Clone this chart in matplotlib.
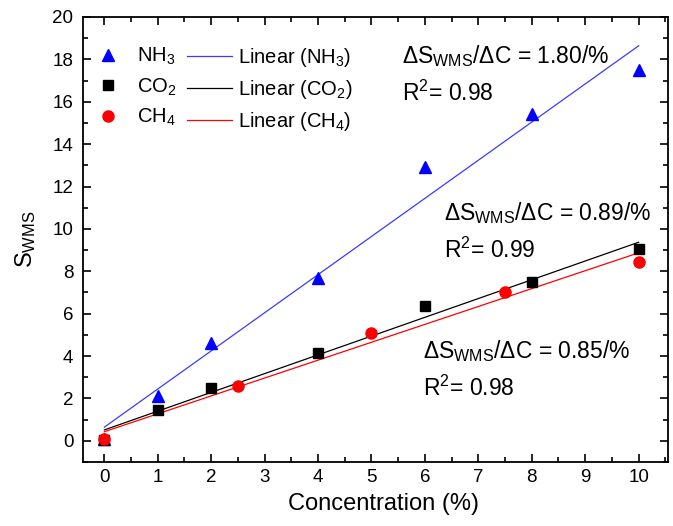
import numpy as np
import matplotlib
matplotlib.use("Agg")
import matplotlib.pyplot as plt
from matplotlib.ticker import MultipleLocator

plt.rcParams['font.family'] = ['Liberation Sans', 'DejaVu Sans']
plt.rcParams['mathtext.fontset'] = 'custom'
plt.rcParams['mathtext.rm'] = 'Liberation Sans'
plt.rcParams['mathtext.it'] = 'Liberation Sans:italic'

# data
x_nh3 = [0, 1, 2, 4, 6, 8, 10]
y_nh3 = [0.1, 2.1, 4.6, 7.7, 12.9, 15.4, 17.5]
x_co2 = [0, 1, 2, 4, 6, 8, 10]
y_co2 = [0.05, 1.45, 2.5, 4.15, 6.35, 7.5, 9.05]
x_ch4 = [0, 2.5, 5, 7.5, 10]
y_ch4 = [0.1, 2.6, 5.1, 7.0, 8.45]

# slope / R^2 notes: (first line, second line, x, baseline y of first line)
fit_text = [
    ("ΔS$_{\\mathrm{WMS}}$/ΔC = 1.80/%", "R$^2$= 0.98", 5.58, 17.83),
    ("ΔS$_{\\mathrm{WMS}}$/ΔC = 0.89/%", "R$^2$= 0.99", 6.35, 10.42),
    ("ΔS$_{\\mathrm{WMS}}$/ΔC = 0.85/%", "R$^2$= 0.98", 5.97, 3.92),
]

fig = plt.figure(figsize=(6.73, 5.26), dpi=100)
ax = fig.add_axes([0.1233, 0.1217, 0.8693, 0.846])

series = [
    ("NH$_3$", x_nh3, y_nh3, "^", 9, "#0000ff", "#3a3aff"),
    ("CO$_2$", x_co2, y_co2, "s", 7, "black", "black"),
    ("CH$_4$", x_ch4, y_ch4, "o", 8, "red", "red"),
]

pts, lines = [], []
for name, xs, ys, mk, ms, c, lc in series:
    xs = np.asarray(xs, float)
    ys = np.asarray(ys, float)
    p, = ax.plot(xs, ys, ls="none", marker=mk, ms=ms, color=c, zorder=3, label=name)
    k, b = np.polyfit(xs, ys, 1)
    xf = np.array([0, 10])
    l, = ax.plot(xf, k * xf + b, color=lc, lw=0.9, zorder=2, label="Linear (%s)" % name)
    pts.append(p)
    lines.append(l)

for t1, t2, tx, ty in fit_text:
    ax.text(tx, ty, t1, fontsize=16.5)
    ax.text(tx, ty - 1.8, t2, fontsize=16.5)

leg1 = ax.legend(pts, [h.get_label() for h in pts], frameon=False, borderpad=0,
                 borderaxespad=0, loc="upper left", bbox_to_anchor=(0.0256, 0.935),
                 fontsize=14.5, handlelength=1.0, handletextpad=0.95, labelspacing=0.45)
ax.add_artist(leg1)
ax.legend(lines, [h.get_label() for h in lines], frameon=False, borderpad=0,
          borderaxespad=0, loc="upper left", bbox_to_anchor=(0.178, 0.935),
          fontsize=14.5, handlelength=2.24, handletextpad=0.3, labelspacing=0.45)

ax.set_xlim(-0.4, 10.55)
ax.set_ylim(-1, 20)
ax.xaxis.set_major_locator(MultipleLocator(1))
ax.xaxis.set_minor_locator(MultipleLocator(0.5))
ax.yaxis.set_major_locator(MultipleLocator(2))
ax.yaxis.set_minor_locator(MultipleLocator(1))
ax.tick_params(which="both", direction="in", top=True, right=True, labelsize=13.5, width=1.2)
ax.tick_params(which="major", length=6)
ax.tick_params(which="minor", length=3.5)
ax.tick_params(axis="x", which="major", pad=5)
ax.tick_params(axis="y", which="major", pad=7)
for s in ax.spines.values():
    s.set_linewidth(1.3)

ax.set_xlabel("Concentration (%)", fontsize=17)
ax.xaxis.set_label_coords(0.513, -0.07, transform=ax.transAxes)
ax.xaxis.label.set_verticalalignment("top")
ax.set_ylabel("S$_{\\mathrm{WMS}}$", fontsize=17, labelpad=10)

fig.savefig("out.png", dpi=100)
